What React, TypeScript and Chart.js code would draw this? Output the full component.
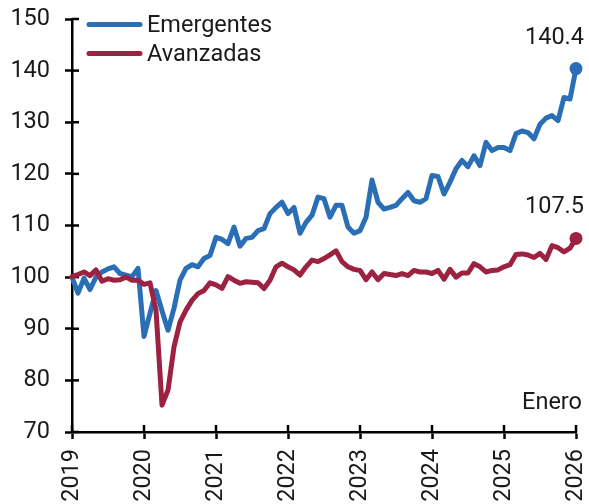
import React, { useEffect, useRef } from "react";
import { Chart, registerables } from "chart.js";

Chart.register(...registerables);

// ---- Data (monthly index, Jan 2019 = 100) ----
const yearLabels = ["2019", "2020", "2021", "2022", "2023", "2024", "2025", "2026"];
const seriesNames = ["Emergentes", "Avanzadas"];

const emergentes = [
  100, 96.9, 99.8, 97.6, 100, 101, 101.6, 102, 100.7, 100.4, 100.1, 101.7, // 2019
  88.5, 93, 97.4, 93.5, 89.7, 94, 99.4, 101.7, 102.4, 102, 103.6, 104.2, // 2020
  107.7, 107.3, 106.5, 109.7, 106, 107.5, 107.7, 109, 109.4, 112.3, 113.5, 114.5, // 2021
  112.3, 113.5, 108.5, 110.6, 112, 115.5, 115.2, 111.6, 113.9, 113.9, 109.7, 108.5, // 2022
  109, 111.6, 118.8, 114.5, 113.2, 113.5, 113.9, 115.2, 116.4, 114.8, 114.5, 115.2, // 2023
  119.7, 119.5, 116.1, 118.4, 121, 122.6, 121.4, 123.5, 121.6, 126.1, 124.5, 125.1, // 2024
  125.1, 124.5, 127.8, 128.3, 128, 126.8, 129.6, 130.8, 131.3, 130.3, 134.8, 134.5, // 2025
  140.4, // Jan 2026
];

const avanzadas = [
  100.1, 100.5, 101, 100.3, 101.4, 99.2, 99.7, 99.4, 99.5, 100, 99.4, 99.4, // 2019
  98.6, 98.9, 93.6, 75.2, 78.1, 86.5, 91.3, 93.6, 95.5, 96.8, 97.4, 98.9, // 2020
  98.5, 97.8, 100.1, 99.4, 98.8, 99.1, 99, 98.9, 97.8, 99.4, 102, 102.7, // 2021
  102, 101.4, 100.4, 102, 103.3, 103, 103.6, 104.3, 105.1, 103, 102, 101.5, // 2022
  101.3, 99.5, 101, 99.5, 100.7, 100.5, 100.3, 100.7, 100.3, 101.3, 101, 101, // 2023
  100.7, 101.3, 99.6, 101.5, 100, 100.8, 100.8, 102.6, 102, 101, 101.3, 101.4, // 2024
  102, 102.4, 104.4, 104.5, 104.3, 103.8, 104.6, 103.4, 106.1, 105.7, 104.9, 105.6, // 2025
  107.5, // Jan 2026
];

const BLUE = "#2a6fb6";
const RED = "#9c2242";
const TEXT = "#1a1a1a";
const FONT = "Roboto, 'DejaVu Sans', sans-serif";
const FS = 23.5;

export default function App() {
  const ref = useRef<HTMLCanvasElement>(null);

  useEffect(() => {
    if (!ref.current) return;
    const last = emergentes.length - 1;

    const overlay = {
      id: "overlay",
      beforeDatasetsDraw(chart: any) {
        const { ctx, chartArea, scales } = chart;
        ctx.save();
        ctx.strokeStyle = "#000";
        ctx.lineWidth = 2.5;
        scales.y.ticks.forEach((t: any) => {
          const y = scales.y.getPixelForValue(t.value);
          ctx.beginPath();
          ctx.moveTo(chartArea.left, y);
          ctx.lineTo(chartArea.left + 7, y);
          ctx.stroke();
        });
        scales.x.ticks.forEach((t: any) => {
          const x = scales.x.getPixelForValue(t.value);
          ctx.beginPath();
          ctx.moveTo(x, chartArea.bottom);
          ctx.lineTo(x, chartArea.bottom - 7);
          ctx.stroke();
        });
        ctx.restore();
      },
      afterDraw(chart: any) {
        const { ctx, scales } = chart;
        ctx.save();
        // legend
        const items = [
          { name: seriesNames[0], color: BLUE, y: 24.5 },
          { name: seriesNames[1], color: RED, y: 53.5 },
        ];
        ctx.lineCap = "round";
        ctx.lineWidth = 5;
        ctx.font = `${FS}px ${FONT}`;
        ctx.fillStyle = TEXT;
        ctx.textBaseline = "alphabetic";
        items.forEach((it) => {
          ctx.strokeStyle = it.color;
          ctx.beginPath();
          ctx.moveTo(89, it.y);
          ctx.lineTo(140, it.y);
          ctx.stroke();
          ctx.textAlign = "left";
          ctx.fillText(it.name, 147, it.y + 7.5);
        });
        // end labels
        ctx.textAlign = "right";
        const xEnd = scales.x.getPixelForValue(last);
        const yE = scales.y.getPixelForValue(emergentes[last]);
        const yA = scales.y.getPixelForValue(avanzadas[last]);
        ctx.fillText(emergentes[last].toFixed(1), xEnd + 8, yE - 25);
        ctx.fillText(avanzadas[last].toFixed(1), xEnd + 8, yA - 25);
        // note
        ctx.fillText("Enero", 582, 409);
        ctx.restore();
      },
    };

    const zeroPad = (s: any) => {
      s.paddingLeft = 0;
      s.paddingRight = 0;
      s.paddingTop = 0;
      s.paddingBottom = 0;
    };

    const chart = new Chart(ref.current, {
      type: "line",
      data: {
        datasets: [
          {
            label: seriesNames[0],
            data: emergentes.map((v, i) => ({ x: i, y: v })),
            borderColor: BLUE,
            backgroundColor: BLUE,
            borderWidth: 5,
            borderJoinStyle: "round",
            borderCapStyle: "round",
            tension: 0,
            pointRadius: (c: any) => (c.dataIndex === last ? 6.5 : 0),
            pointBorderWidth: 0,
            clip: false,
            order: 1,
          },
          {
            label: seriesNames[1],
            data: avanzadas.map((v, i) => ({ x: i, y: v })),
            borderColor: RED,
            backgroundColor: RED,
            borderWidth: 5,
            borderJoinStyle: "round",
            borderCapStyle: "round",
            tension: 0,
            pointRadius: (c: any) => (c.dataIndex === last ? 6.5 : 0),
            pointBorderWidth: 0,
            clip: false,
            order: 0,
          },
        ],
      },
      options: {
        animation: false,
        responsive: false,
        maintainAspectRatio: false,
        layout: { padding: { left: 0, right: 13, top: 19, bottom: 0 } },
        plugins: { legend: { display: false }, tooltip: { enabled: false } },
        elements: { line: { fill: false } },
        scales: {
          x: {
            type: "linear",
            min: 0,
            max: last,
            afterFit: (s: any) => {
              s.height = 72;
              zeroPad(s);
            },
            border: { display: true, color: "#000", width: 2.5 },
            grid: {
              drawOnChartArea: false,
              drawTicks: true,
              tickLength: 7,
              tickWidth: 2.5,
              tickColor: "#000",
            },
            ticks: {
              stepSize: 12,
              autoSkip: false,
              minRotation: 90,
              maxRotation: 90,
              padding: 10,
              color: TEXT,
              font: { family: FONT, size: FS },
              callback: (v: any) => yearLabels[Math.round(Number(v) / 12)] ?? "",
            },
          },
          y: {
            min: 70,
            max: 150,
            afterFit: (s: any) => {
              s.width = 72;
              zeroPad(s);
            },
            border: { display: true, color: "#000", width: 2.5 },
            grid: {
              drawOnChartArea: false,
              drawTicks: true,
              tickLength: 7,
              tickWidth: 2.5,
              tickColor: "#000",
            },
            ticks: {
              stepSize: 10,
              padding: 15,
              color: TEXT,
              font: { family: FONT, size: FS },
            },
          },
        },
      },
      plugins: [overlay],
    } as any);

    return () => chart.destroy();
  }, []);

  return (
    <div style={{ position: "absolute", left: 0, top: 0, width: 589, height: 504 }}>
      <canvas ref={ref} width={589} height={504} style={{ display: "block" }} />
    </div>
  );
}
